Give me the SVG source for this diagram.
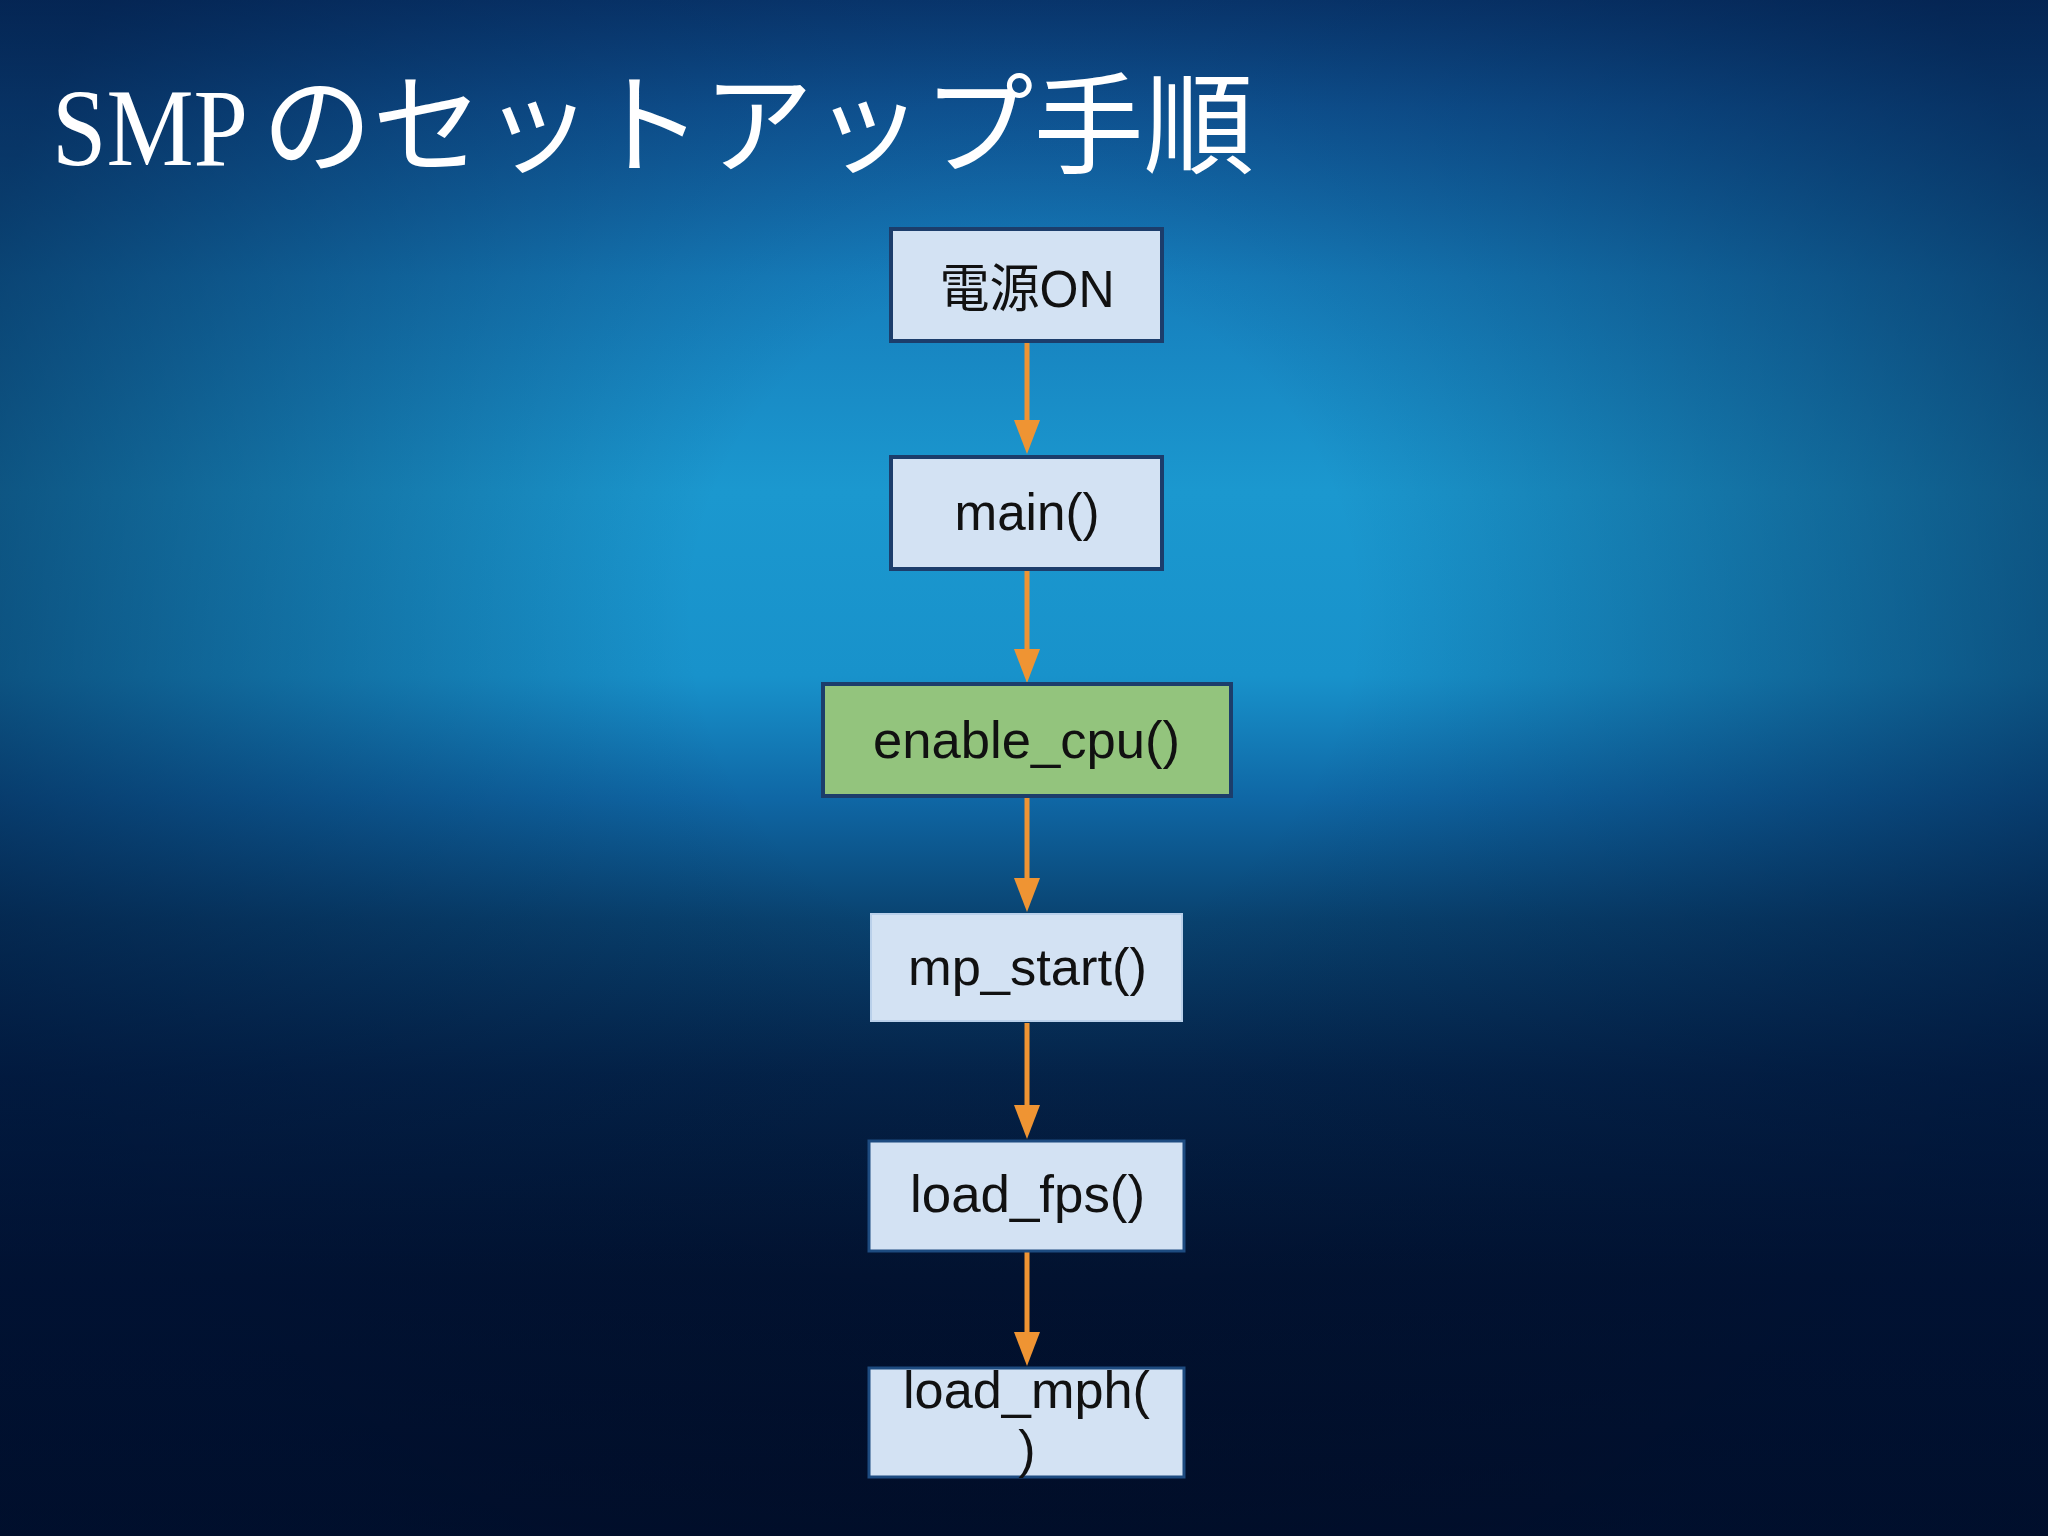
<svg xmlns="http://www.w3.org/2000/svg" width="2048" height="1536" viewBox="0 0 2048 1536">
<defs>
<linearGradient id="bg" x1="0" y1="0" x2="0" y2="1">
<stop offset="0" stop-color="#0a3d78"/>
<stop offset="0.07" stop-color="#10599b"/>
<stop offset="0.18" stop-color="#167ebc"/>
<stop offset="0.32" stop-color="#1b98cf"/>
<stop offset="0.44" stop-color="#1892cb"/>
<stop offset="0.52" stop-color="#0f67a5"/>
<stop offset="0.6" stop-color="#09426f"/>
<stop offset="0.7" stop-color="#04244a"/>
<stop offset="0.83" stop-color="#02122e"/>
<stop offset="1" stop-color="#010b20"/>
</linearGradient>
<radialGradient id="vig" cx="0.5" cy="0.4" r="0.72" gradientTransform="translate(0.5 0.4) scale(0.75 1) translate(-0.5 -0.4)">
<stop offset="0.3" stop-color="#001236" stop-opacity="0"/>
<stop offset="0.75" stop-color="#001236" stop-opacity="0.35"/>
<stop offset="1" stop-color="#001236" stop-opacity="0.55"/>
</radialGradient>
<style>
.box{fill:#d3e2f3;stroke:#1c3d6b;stroke-width:4}
.green{fill:#93c47d;stroke:#1c3d6b;stroke-width:4}
.thin{fill:#d3e2f3;stroke:#b9d0ea;stroke-width:2}
.mid{fill:#d3e2f3;stroke:#1d4b80;stroke-width:3}
.lbl{font-family:"Liberation Sans","Noto Sans CJK JP",sans-serif;font-size:52px;fill:#111;text-anchor:middle}
.title{font-family:"Liberation Serif","Noto Sans CJK JP",serif;font-size:110px;fill:#ffffff}
.conn{stroke:#ef9433;stroke-width:5;fill:none}
.head{fill:#ef9433}
</style>
</defs>
<rect x="0" y="0" width="2048" height="1536" fill="url(#bg)"/>
<rect x="0" y="0" width="2048" height="1536" fill="url(#vig)"/>

<g id="title">
<text class="title" y="165"><tspan x="52" textLength="196" lengthAdjust="spacingAndGlyphs">SMP</tspan><tspan x="262" textLength="992" lengthAdjust="spacingAndGlyphs">のセットアップ手順</tspan></text>
</g>

<g id="connectors">
<line class="conn" x1="1027" y1="343" x2="1027" y2="422"/>
<path class="head" d="M1014,420 L1040,420 L1027,454 z"/>
<line class="conn" x1="1027" y1="571" x2="1027" y2="651"/>
<path class="head" d="M1014,649 L1040,649 L1027,683 z"/>
<line class="conn" x1="1027" y1="798" x2="1027" y2="880"/>
<path class="head" d="M1014,878 L1040,878 L1027,912 z"/>
<line class="conn" x1="1027" y1="1023" x2="1027" y2="1107"/>
<path class="head" d="M1014,1105 L1040,1105 L1027,1139 z"/>
<line class="conn" x1="1027" y1="1252" x2="1027" y2="1334"/>
<path class="head" d="M1014,1332 L1040,1332 L1027,1366 z"/>
</g>

<g id="node-power">
<rect class="box" x="891" y="229" width="271" height="112"/>
<text class="lbl" x="1027" y="307" textLength="175" lengthAdjust="spacingAndGlyphs">電源ON</text>
</g>
<g id="node-main">
<rect class="box" x="891" y="457" width="271" height="112"/>
<text class="lbl" x="1027" y="530" textLength="145" lengthAdjust="spacingAndGlyphs">main()</text>
</g>
<g id="node-enable-cpu">
<rect class="green" x="823" y="684" width="408" height="112"/>
<text class="lbl" x="1026.5" y="758" textLength="307" lengthAdjust="spacingAndGlyphs">enable_cpu()</text>
</g>
<g id="node-mp-start">
<rect class="thin" x="871" y="914" width="311" height="107"/>
<text class="lbl" x="1027.5" y="985" textLength="239" lengthAdjust="spacingAndGlyphs">mp_start()</text>
</g>
<g id="node-load-fps">
<rect class="mid" x="869" y="1141" width="315" height="110"/>
<text class="lbl" x="1027.5" y="1212" textLength="235" lengthAdjust="spacingAndGlyphs">load_fps()</text>
</g>
<g id="node-load-mph">
<rect class="mid" x="869" y="1368" width="315" height="109"/>
<text class="lbl" x="1026.5" y="1408"><tspan x="1026.5" textLength="247" lengthAdjust="spacingAndGlyphs">load_mph(</tspan><tspan x="1027" y="1467">)</tspan></text>
</g>
</svg>
